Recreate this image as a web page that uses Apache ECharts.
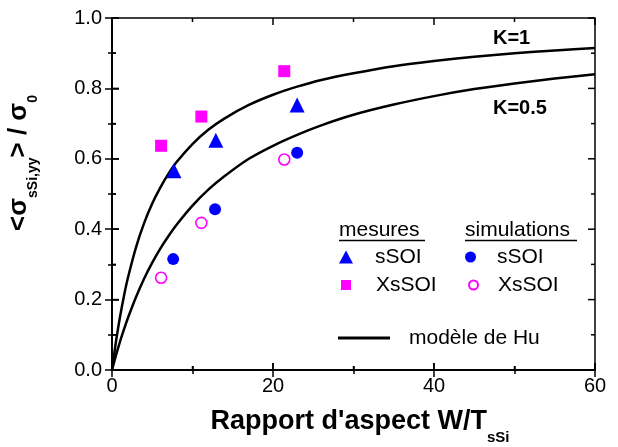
<!DOCTYPE html>
<html>
<head>
<meta charset="utf-8">
<script src="https://cdn.jsdelivr.net/npm/echarts@6/dist/echarts.min.js"></script>
<style>html,body{margin:0;padding:0;background:#fff}#c{width:618px;height:447px}</style>
</head>
<body>
<div id="c"></div>
<script>
var mesSSOI = [[7.7, 0.566], [12.9, 0.653], [23.0, 0.753]];
var mesXsSOI = [[6.1, 0.637], [11.1, 0.72], [21.4, 0.849]];
var simSSOI = [[7.6, 0.315], [12.8, 0.457], [23.0, 0.617]];
var simXsSOI = [[6.1, 0.262], [11.1, 0.418], [21.4, 0.598]];
// Hu model curves
var huX = [0, 0.5, 1, 1.5, 2, 3, 4, 5, 6, 7, 8, 10, 12, 14, 17, 20, 23, 26, 30, 35, 40, 45, 50, 55, 60];
var huK1 = [0, 0.082, 0.152, 0.212, 0.264, 0.35, 0.418, 0.473, 0.518, 0.557, 0.59, 0.642, 0.683, 0.715, 0.753, 0.782, 0.805, 0.824, 0.843, 0.863, 0.878, 0.89, 0.90, 0.908, 0.915];
var huK05 = [0, 0.042, 0.081, 0.116, 0.149, 0.208, 0.26, 0.305, 0.345, 0.38, 0.412, 0.467, 0.513, 0.551, 0.60, 0.637, 0.668, 0.695, 0.725, 0.754, 0.778, 0.798, 0.814, 0.828, 0.84];
var xTicks = [0, 20, 40, 60];
var xMinor = [10, 30, 50];
var yTicks = [0.0, 0.2, 0.4, 0.6, 0.8, 1.0];
var yMinor = [0.1, 0.3, 0.5, 0.7, 0.9];

var FONT = 'Liberation Sans, Arial, sans-serif';
function pairs(xs, ys) { return xs.map(function (x, i) { return [x, ys[i]]; }); }

function axis(pos, min, max, interval, label) {
  return {
    type: 'value', position: pos, min: min, max: max, interval: interval,
    axisLine: { show: true, lineStyle: { color: '#000', width: 1.5 } },
    axisTick: { show: true, inside: true, length: 7, lineStyle: { color: '#000', width: 1.5 } },
    minorTick: { show: true, splitNumber: 2, length: 4, lineStyle: { color: '#000', width: 1.5 } },
    splitLine: { show: false },
    axisLabel: label || { show: false }
  };
}

var legText = { fontSize: 21, color: '#000', fontFamily: FONT, lineHeight: 21 };
function leg(name, left, centerY, w, h, padLeft, extra) {
  return Object.assign({ orient: 'vertical', left: left, top: centerY - 10.5, padding: 0,
    itemWidth: w, itemHeight: h, data: [name], selectedMode: false,
    formatter: function (n) { return n.replace(/^(mes_|sim_)/, ''); },
    textStyle: Object.assign({}, legText, { padding: [0, 0, 0, padLeft] }) }, extra || {});
}

// Plot frame with inward ticks on all four sides (same layout as the grid below)
var G = { l: 112, r: 595, t: 18, b: 370 };
function fx(v) { return G.l + (v - 0) / 60 * (G.r - G.l); }
function fy(v) { return G.b - (v - 0) / 1 * (G.b - G.t); }
var frame = [{ type: 'rect', shape: { x: G.l, y: G.t, width: G.r - G.l, height: G.b - G.t },
  style: { fill: 'none', stroke: '#000', lineWidth: 1.5 }, z: 10 }];
function tickLine(x1, y1, x2, y2) {
  frame.push({ type: 'line', shape: { x1: x1, y1: y1, x2: x2, y2: y2 }, style: { stroke: '#000', lineWidth: 1.5 }, z: 10 });
}
xTicks.forEach(function (v) { tickLine(fx(v), G.b, fx(v), G.b - 7); tickLine(fx(v), G.t, fx(v), G.t + 7); });
xMinor.forEach(function (v) { tickLine(fx(v), G.b, fx(v), G.b - 4); tickLine(fx(v), G.t, fx(v), G.t + 4); });
yTicks.forEach(function (v) { tickLine(G.l, fy(v), G.l + 7, fy(v)); tickLine(G.r, fy(v), G.r - 7, fy(v)); });
yMinor.forEach(function (v) { tickLine(G.l, fy(v), G.l + 4, fy(v)); tickLine(G.r, fy(v), G.r - 4, fy(v)); });

var chart = echarts.init(document.getElementById('c'), null, { renderer: 'canvas' });
chart.setOption({
  animation: false,
  backgroundColor: '#fff',
  grid: { left: 112, right: 23, top: 18, bottom: 77 },
  xAxis: [
    axis('bottom', 0, 60, 20, { show: true, margin: 6, fontSize: 20, color: '#000', fontFamily: FONT,
      formatter: function (v) { return xTicks.indexOf(v) >= 0 ? String(v) : ''; } }),
    axis('top', 0, 60, 20)
  ],
  yAxis: [
    axis('left', 0, 1, 0.2, { show: true, margin: 10, fontSize: 20, color: '#000', fontFamily: FONT,
      formatter: function (v) { return v.toFixed(1); } }),
    axis('right', 0, 1, 0.2)
  ],
  legend: [
    leg('mes_sSOI', 339, 257, 14, 13, 17),
    leg('mes_XsSOI', 341, 285, 10, 10, 20),
    leg('sim_sSOI', 465, 257, 11, 11, 16),
    leg('sim_XsSOI', 468, 285, 9, 9, 15),
    leg('modèle de Hu', 338, 338, 52, 3, 14, { icon: 'rect', itemStyle: { color: '#000' } })
  ],
  graphic: [
    { type: 'text', x: 339, y: 230, style: { text: 'mesures', font: '21px ' + FONT, fill: '#000', verticalAlign: 'middle' } },
    { type: 'line', shape: { x1: 339, y1: 240.5, x2: 425, y2: 240.5 }, style: { stroke: '#000', lineWidth: 1.5 } },
    { type: 'text', x: 465, y: 230, style: { text: 'simulations', font: '21px ' + FONT, fill: '#000', verticalAlign: 'middle' } },
    { type: 'line', shape: { x1: 465, y1: 240.5, x2: 577, y2: 240.5 }, style: { stroke: '#000', lineWidth: 1.5 } },
    { type: 'text', x: 493, y: 38, style: { text: 'K=1', font: 'bold 20px ' + FONT, fill: '#000', verticalAlign: 'middle' } },
    { type: 'text', x: 493, y: 108, style: { text: 'K=0.5', font: 'bold 20px ' + FONT, fill: '#000', verticalAlign: 'middle' } },
    { type: 'text', x: 360, y: 422,
      style: { text: "{m|Rapport d'aspect W/T}{s|sSi}", align: 'center', verticalAlign: 'middle',
        rich: { m: { fontSize: 27, fontWeight: 'bold', fontFamily: FONT, lineHeight: 46, verticalAlign: 'middle', fill: '#000' },
                s: { fontSize: 15, fontWeight: 'bold', fontFamily: FONT, lineHeight: 15, verticalAlign: 'bottom', fill: '#000' } } } },
    { type: 'text', x: 19, y: 163, rotation: Math.PI / 2,
      style: { text: '{m|<σ}{s|sSi,yy}{m|> / σ}{s|0}', align: 'center', verticalAlign: 'middle',
        rich: { m: { fontSize: 26, fontWeight: 'bold', fontFamily: FONT, lineHeight: 42, verticalAlign: 'middle', fill: '#000' },
                s: { fontSize: 14, fontWeight: 'bold', fontFamily: FONT, lineHeight: 14, verticalAlign: 'bottom', fill: '#000' } } } }
  ].concat(frame),
  series: [
    { name: 'modèle de Hu', type: 'line', data: pairs(huX, huK1), symbol: 'none', showSymbol: false,
      smooth: 0.2, lineStyle: { color: '#000', width: 2.5 }, itemStyle: { color: '#000' }, z: 2 },
    { name: 'modèle de Hu', type: 'line', data: pairs(huX, huK05), symbol: 'none', showSymbol: false,
      smooth: 0.2, lineStyle: { color: '#000', width: 2.5 }, itemStyle: { color: '#000' }, z: 2 },
    { name: 'mes_sSOI', type: 'scatter', data: mesSSOI, symbol: 'triangle', symbolSize: 15,
      itemStyle: { color: '#0000FF', opacity: 1 }, z: 3 },
    { name: 'mes_XsSOI', type: 'scatter', data: mesXsSOI, symbol: 'rect', symbolSize: 12,
      itemStyle: { color: '#FF00FF', opacity: 1 }, z: 3 },
    { name: 'sim_sSOI', type: 'scatter', data: simSSOI, symbol: 'circle', symbolSize: 12,
      itemStyle: { color: '#0000FF', opacity: 1 }, z: 3 },
    { name: 'sim_XsSOI', type: 'scatter', data: simXsSOI, symbol: 'circle', symbolSize: 11,
      itemStyle: { color: '#FFFFFF', borderColor: '#FF00FF', borderWidth: 1.6, opacity: 1 }, z: 3 }
  ]
});
</script>
</body>
</html>
